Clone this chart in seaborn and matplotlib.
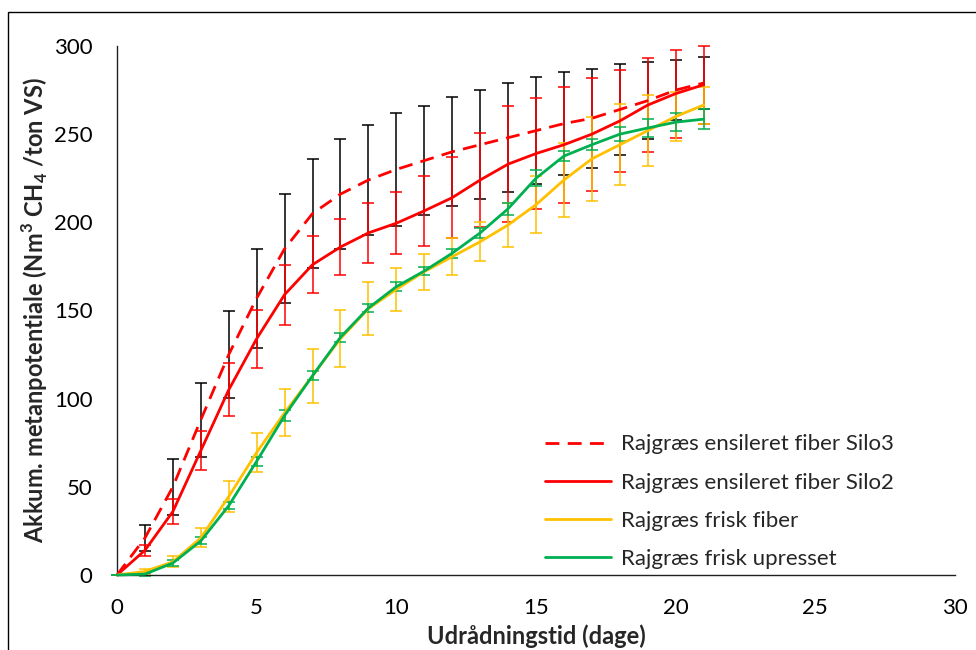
import matplotlib
matplotlib.use("Agg")
import matplotlib.pyplot as plt
from matplotlib.patches import Rectangle
import numpy as np
import pandas as pd
import seaborn as sns

# Days of digestion
days = list(range(0, 22))

# Accumulated methane potential (Nm3 CH4 / ton VS) and standard deviations
silo3_mean = [0, 21, 50, 88, 125, 157, 185, 205, 216, 224, 230, 235, 240, 244,
              248, 252, 256, 259, 264, 269, 275, 279]
silo3_err = [0, 7.5, 16, 21, 24.5, 28, 31, 31, 31, 31, 32, 31, 31, 31,
             31, 30.5, 29, 28, 26, 22, 17, 15]

silo2_mean = [0, 14, 36, 70.5, 105, 134, 159, 176, 186, 194, 199.5, 206.5, 214, 224,
              233, 239, 244, 250, 257.5, 266.5, 273, 278]
silo2_err = [0, 3, 7, 11, 15, 16.5, 17, 16, 16, 17, 17.5, 20, 23, 26.5,
             33, 31.5, 33, 32, 29, 26.5, 25, 22]

fiber_mean = [0, 2, 7.5, 21, 44.5, 69.5, 92, 113, 134, 151, 162, 172, 180.5, 189,
              198.5, 210, 224, 236, 244, 252, 260, 266.5]
fiber_err = [0, 1.5, 3.2, 5.4, 8.8, 11.2, 13.2, 15.2, 16.2, 15, 12.3, 10.3, 10.4, 11,
             12.5, 16, 21, 24, 23, 20, 14, 10.5]

upresset_mean = [0, 0.5, 6.8, 19.3, 39.3, 64.5, 90.4, 113, 134.8, 151.4, 163.5, 172.4, 182.5, 194,
                 207.7, 225, 237.6, 244, 250, 253.5, 256.8, 258.5]
upresset_err = [0, 0.8, 1.5, 2, 2, 2.5, 3, 2.5, 2.5, 2.5, 2.5, 2.5, 2.5, 3,
                3.5, 4.5, 3, 3, 4, 5, 5, 5.5]

labels = ["Rajgræs ensileret fiber Silo3", "Rajgræs ensileret fiber Silo2",
          "Rajgræs frisk fiber", "Rajgræs frisk upresset"]

series = [
    (labels[0], silo3_mean, silo3_err, "#FF0000", "#000000", (0, (5, 3))),
    (labels[1], silo2_mean, silo2_err, "#FF0000", "#FF0000", "-"),
    (labels[2], fiber_mean, fiber_err, "#FFC000", "#FFC000", "-"),
    (labels[3], upresset_mean, upresset_err, "#00B050", "#00B050", "-"),
]

sns.set_style("white")
plt.rcParams["font.family"] = ["Lato", "DejaVu Sans"]
plt.rcParams["mathtext.fontset"] = "custom"
plt.rcParams["mathtext.rm"] = "Lato"
plt.rcParams["mathtext.bf"] = "Lato:bold"

fig = plt.figure(figsize=(9.76, 6.5), dpi=100)
ax = fig.add_axes([117 / 976, 1 - 575 / 650, 838 / 976, 529 / 650])

for name, mean, err, color, ecolor, ls in series:
    df = pd.DataFrame({"dag": days, "vaerdi": mean})
    ax.errorbar(days, mean, yerr=err, fmt="none", ecolor=ecolor, elinewidth=1.1,
                capsize=4.5, capthick=1.1, clip_on=False, zorder=2)
    sns.lineplot(data=df, x="dag", y="vaerdi", ax=ax, color=color, linewidth=2.0,
                 linestyle=ls, label=name, clip_on=False, zorder=3)

ax.set_xlim(0, 30)
ax.set_ylim(0, 300)
ax.set_xticks(range(0, 31, 5))
ax.set_yticks(range(0, 301, 50))
for s in ["top", "right"]:
    ax.spines[s].set_visible(False)
for s in ["left", "bottom"]:
    ax.spines[s].set_color("#202020")
    ax.spines[s].set_linewidth(1.0)
ax.tick_params(axis="both", direction="out", length=4.5, width=1.0, color="#202020",
               labelsize=16, labelcolor="black")
ax.tick_params(axis="y", pad=13)
ax.tick_params(axis="x", pad=12)

ax.set_xlabel("Udrådningstid (dage)", fontsize=17, fontweight="bold", labelpad=5)
ax.set_ylabel(r"Akkum. metanpotentiale (Nm$^{\mathbf{3}}$ CH$_{\mathbf{4}}$ /ton VS)",
              fontsize=17, fontweight="bold", labelpad=3)

leg = ax.legend(loc="upper left", bbox_to_anchor=(0.511, 0.266), frameon=False,
                fontsize=16, handlelength=2.95, handletextpad=0.45,
                labelspacing=0.82, borderaxespad=0, borderpad=0)

fig.patches.append(Rectangle((8 / 976, -0.1), 1.2, 1.1 - 12 / 650, fill=False,
                             edgecolor="black", linewidth=1.0,
                             transform=fig.transFigure, figure=fig))

fig.savefig("out.png", dpi=100)
